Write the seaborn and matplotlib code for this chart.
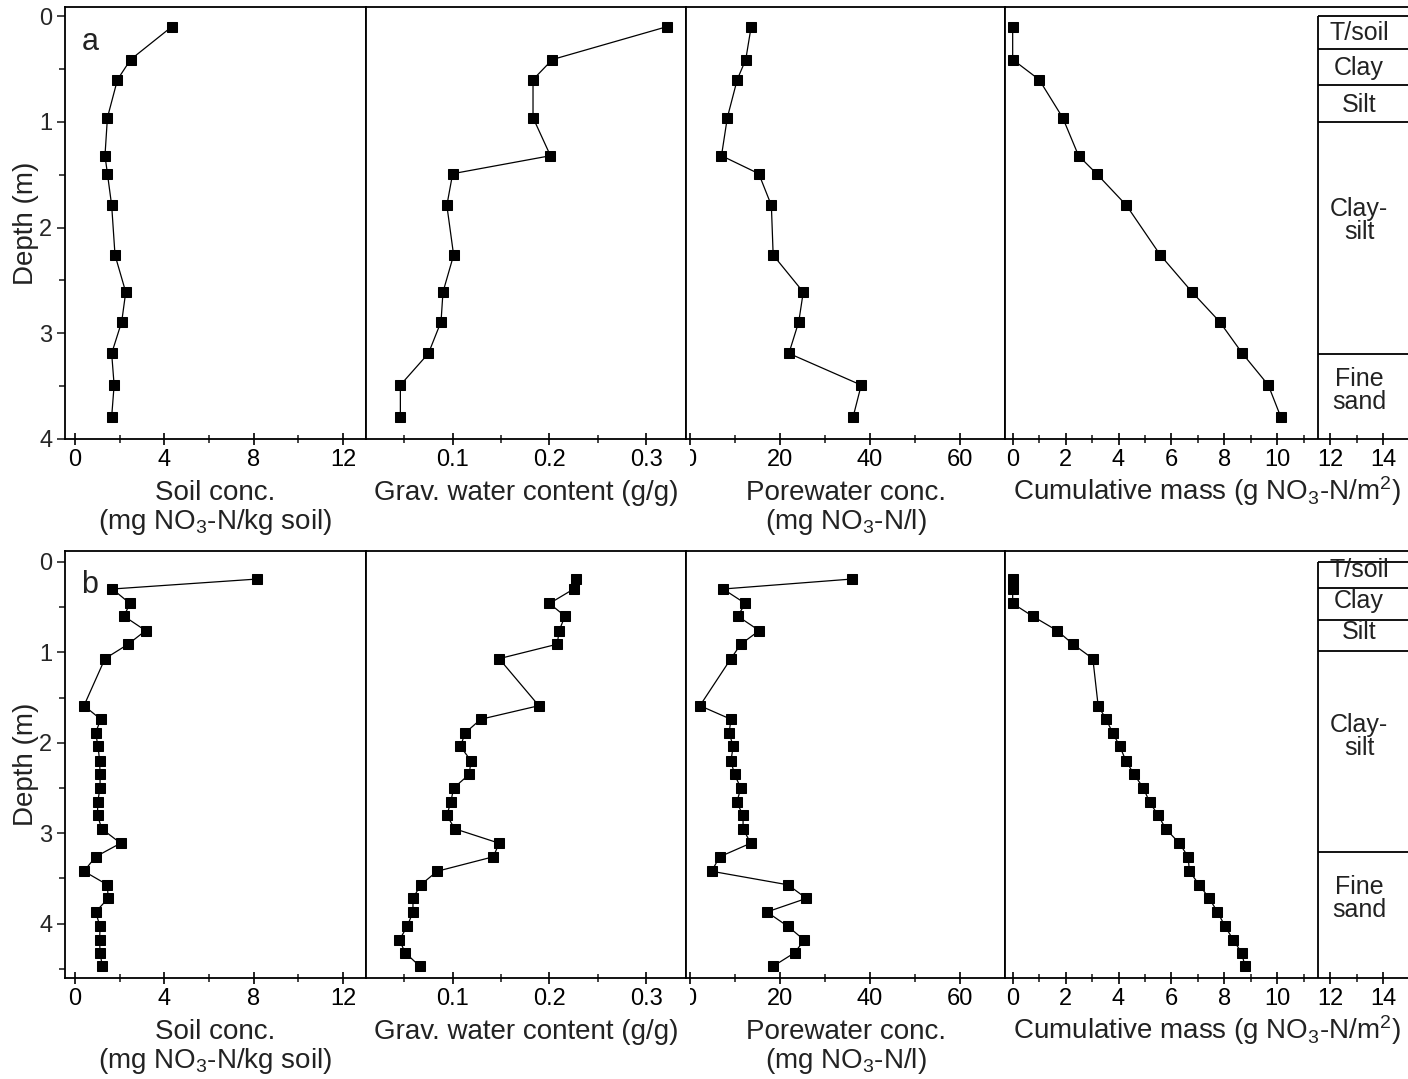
import matplotlib
matplotlib.use("Agg")
import matplotlib.pyplot as plt
from matplotlib.transforms import Bbox, TransformedBbox
import seaborn as sns
import pandas as pd

# ---------------- data ----------------
depth_a = [0.10, 0.41, 0.60, 0.96, 1.32, 1.49, 1.79, 2.26, 2.61, 2.89, 3.19, 3.49, 3.79]
soil_a = [4.33, 2.49, 1.90, 1.45, 1.34, 1.45, 1.64, 1.79, 2.27, 2.09, 1.64, 1.75, 1.64]
grav_a = [0.321, 0.203, 0.183, 0.183, 0.201, 0.100, 0.094, 0.101, 0.090, 0.088, 0.075, 0.046, 0.046]
pore_a = [13.6, 12.4, 10.5, 8.3, 7.0, 15.3, 18.1, 18.5, 25.2, 24.2, 22.0, 38.1, 36.3]
cum_a = [0.0, 0.0, 1.00, 1.89, 2.49, 3.17, 4.30, 5.58, 6.78, 7.82, 8.68, 9.66, 10.13]

depth_b = [0.19, 0.30, 0.46, 0.60, 0.76, 0.91, 1.07, 1.59, 1.74, 1.89, 2.04, 2.20, 2.35, 2.50,
           2.66, 2.80, 2.95, 3.11, 3.26, 3.42, 3.57, 3.72, 3.87, 4.03, 4.18, 4.32, 4.47]
soil_b = [8.15, 1.67, 2.46, 2.19, 3.16, 2.38, 1.34, 0.40, 1.15, 0.92, 1.03, 1.10, 1.12, 1.12,
          1.01, 1.01, 1.19, 2.04, 0.92, 0.40, 1.45, 1.48, 0.92, 1.12, 1.10, 1.12, 1.22]
grav_b = [0.227, 0.225, 0.200, 0.216, 0.210, 0.208, 0.148, 0.189, 0.129, 0.113, 0.108, 0.119,
          0.117, 0.101, 0.098, 0.094, 0.102, 0.148, 0.142, 0.084, 0.067, 0.059, 0.059, 0.053,
          0.045, 0.051, 0.066]
pore_b = [36.0, 7.35, 12.3, 10.6, 15.4, 11.3, 9.1, 2.2, 9.1, 8.7, 9.6, 9.1, 9.9, 11.3, 10.4,
          11.8, 11.8, 13.5, 6.6, 4.8, 21.8, 25.9, 17.1, 21.8, 25.4, 23.3, 18.5]
cum_b = [0.0, 0.0, 0.0, 0.75, 1.68, 2.28, 3.03, 3.23, 3.53, 3.78, 4.05, 4.28, 4.59, 4.94, 5.18,
         5.50, 5.78, 6.30, 6.63, 6.68, 7.05, 7.43, 7.74, 8.03, 8.34, 8.65, 8.78]

layer_names = ["T/soil", "Clay", "Silt", "Clay-\nsilt", "Fine\nsand"]
layers_a = [0.0, 0.31, 0.65, 1.00, 3.20, 4.00]
layers_b = [0.0, 0.285, 0.64, 0.99, 3.21, 4.60]

panel_labels = ["a", "b"]
xlabels = ["Soil conc.\n(mg NO$_3$-N/kg soil)",
           "Grav. water content (g/g)",
           "Porewater conc.\n(mg NO$_3$-N/l)",
           "Cumulative mass (g NO$_3$-N/m$^2$)"]
xticks_major = [[0, 4, 8, 12], [0.1, 0.2, 0.3], [0, 20, 40, 60], [0, 2, 4, 6, 8, 10, 12, 14]]
xticks_minor = [[2, 6, 10], [0.05, 0.15, 0.25], [10, 30, 50], [1, 3, 5, 7, 9, 11, 13]]
xtick_labels = [["0", "4", "8", "12"], ["0.1", "0.2", "0.3"], ["0", "20", "40", "60"],
                ["0", "2", "4", "6", "8", "10", "12", "14"]]
xlims = [(-0.45, 13.03), (0.0105, 0.341), (-0.9, 70.1), (-0.29, 14.94)]
depth_ticks = {"a": [0, 1, 2, 3, 4], "b": [0, 1, 2, 3, 4]}
depth_minor = {"a": [0.5, 1.5, 2.5, 3.5], "b": [0.5, 1.5, 2.5, 3.5, 4.5]}
ylims = {"a": (4.0, -0.087), "b": (4.6, -0.12)}

# ---------------- style ----------------
sns.set_theme(style="ticks")
plt.rcParams["font.family"] = ["Liberation Sans", "DejaVu Sans"]
plt.rcParams["mathtext.fontset"] = "custom"
plt.rcParams["mathtext.rm"] = "Liberation Sans"
plt.rcParams["mathtext.it"] = "Liberation Sans:italic"
plt.rcParams["axes.linewidth"] = 1.3
plt.rcParams["axes.edgecolor"] = "black"

W, H = 1408, 1079
fig = plt.figure(figsize=(W / 100, H / 100), dpi=100)
fig.patch.set_facecolor("white")

col_px = [(65, 366), (366, 686), (686, 1005), (1005, 1408)]
row_px = {"a": (7, 439), "b": (551, 978)}
label_pos = {"a": [0.16, 0.49, 0.84, 1.93, 3.54], "b": [0.09, 0.43, 0.78, 1.93, 3.72]}

datasets = {
    "a": (depth_a, [soil_a, grav_a, pore_a, cum_a], layers_a),
    "b": (depth_b, [soil_b, grav_b, pore_b, cum_b], layers_b),
}

all_axes = {}
for panel in panel_labels:
    depth, series, layers = datasets[panel]
    top, bot = row_px[panel]
    axes = []
    for i, (x0, x1) in enumerate(col_px):
        ax = fig.add_axes([x0 / W, 1 - bot / H, (x1 - x0) / W, (bot - top) / H])
        df = pd.DataFrame({"x": series[i], "depth": depth})
        sns.lineplot(data=df, x="x", y="depth", sort=False, estimator=None, ax=ax,
                     color="black", linewidth=0.9, marker="s", markersize=6.5,
                     markeredgecolor="black", markerfacecolor="black")
        ax.set_xticks(xticks_major[i])
        ax.set_xticklabels(xtick_labels[i])
        ax.set_xticks(xticks_minor[i], minor=True)
        ax.tick_params(axis="x", which="major", direction="inout", length=9, width=1.2,
                       labelsize=17, pad=3, colors="black")
        ax.tick_params(axis="x", which="minor", direction="inout", length=6, width=1.2)
        ax.set_xlabel(xlabels[i], fontsize=20, linespacing=1.05,
                      labelpad=(2 if i == 3 else 6), color="#222222")
        ax.set_ylabel("")
        for s in ["top", "left", "bottom", "right"]:
            ax.spines[s].set_visible(True)
            ax.spines[s].set_color("black")
        if i == 0:
            ax.set_yticks(depth_ticks[panel])
            ax.set_yticks(depth_minor[panel], minor=True)
            ax.tick_params(axis="y", which="major", direction="out", length=6, width=1.2,
                           labelsize=17, pad=3)
            ax.tick_params(axis="y", which="minor", direction="out", length=4, width=1.2)
            ax.set_ylabel("Depth (m)", fontsize=20, labelpad=0, color="#222222")
            ax.text(0.055, 0.92, panel, transform=ax.transAxes, fontsize=22,
                    ha="left", va="center", color="#222222")
        else:
            ax.set_yticks([])
            ax.set_yticks([], minor=True)
        ax.set_xlim(*xlims[i])
        ax.set_ylim(*ylims[panel])
        if i == 3:
            ax.spines["right"].set_visible(False)
            xl = 11.55
            xr = xlims[3][1]
            ax.vlines(xl, layers[0], layers[-1], color="black", linewidth=1.3)
            for d in layers[:-1]:
                ax.hlines(d, xl, xr, color="black", linewidth=1.3)
            for k, name in enumerate(layer_names):
                ax.text((xl + xr) / 2 - 0.15, label_pos[panel][k], name, fontsize=18,
                        ha="center", va="center", linespacing=0.95, color="#222222")
        axes.append(ax)
    all_axes[panel] = axes

# the zero label of the porewater axis is partly hidden by the neighbouring axes
for panel in panel_labels:
    ax3 = all_axes[panel][2]
    bb = TransformedBbox(Bbox([[690 / W, 0], [1, 1]]), fig.transFigure)
    for tick in ax3.xaxis.get_major_ticks():
        tick.label1.set_clip_box(bb)
        tick.label1.set_clip_on(True)

fig.savefig("out.png", dpi=100, facecolor="white")
